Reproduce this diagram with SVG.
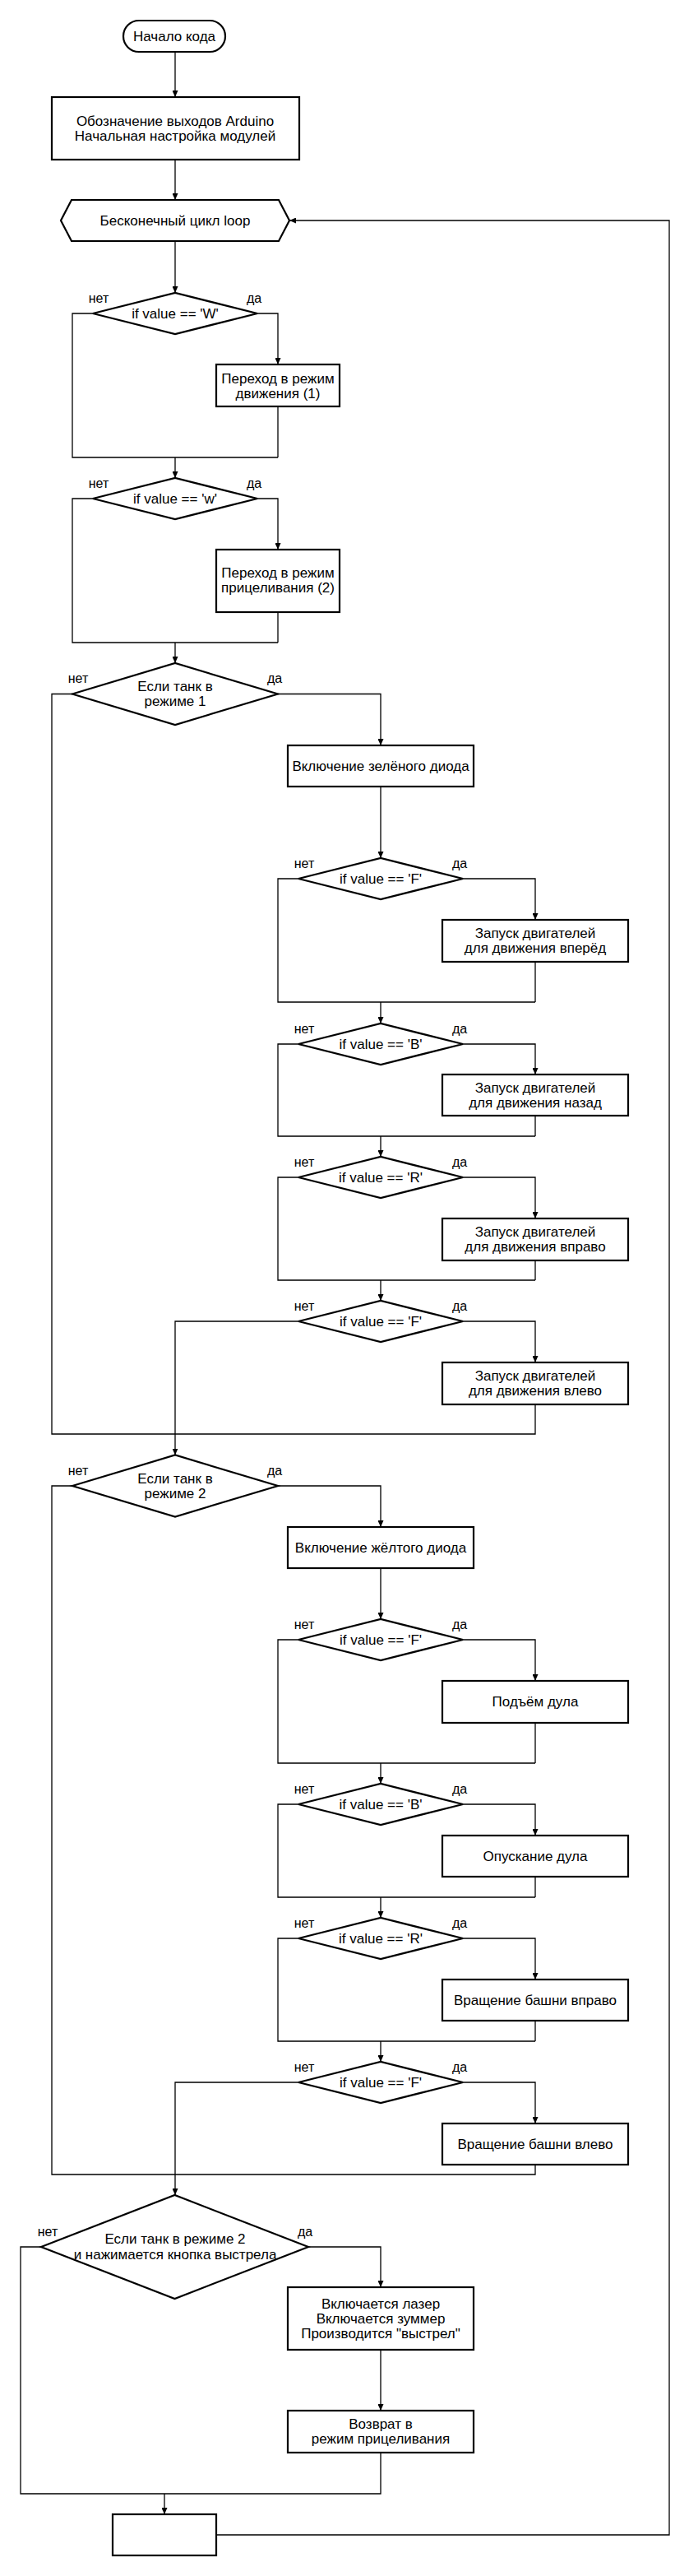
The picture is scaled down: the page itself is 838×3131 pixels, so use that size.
<svg xmlns="http://www.w3.org/2000/svg" width="838" height="3131" viewBox="0 0 838 3131">
<style>
.s{fill:#fff;stroke:#000;stroke-width:2.2}
.c{fill:none;stroke:#000;stroke-width:1.3}
.a{marker-end:url(#arr)}
text{font-family:"Liberation Sans",Arial,sans-serif;font-size:17px;fill:#000;text-anchor:middle}
.l{font-size:16px}
</style>
<defs>
<marker id="arr" markerUnits="userSpaceOnUse" markerWidth="8" markerHeight="7" refX="8" refY="3.5" orient="auto">
<path d="M0,0 L8,3.5 L0,7 z" fill="#000"/>
</marker>
</defs>
<rect width="838" height="3131" fill="#fff"/>
<g id="connectors">
<path class="c a" d="M213,63 V118"/>
<path class="c a" d="M213,194 V243"/>
<path class="c a" d="M213,293 V356"/>
<path class="c a" d="M313,381 H338 V443"/>
<path class="c" d="M338,494 V556"/>
<path class="c" d="M113,381 H88 V556 H338"/>
<path class="c a" d="M213,556 V581"/>
<path class="c a" d="M313,606 H338 V668"/>
<path class="c" d="M338,744 V781"/>
<path class="c" d="M113,606 H88 V781 H338"/>
<path class="c a" d="M213,781 V806"/>
<path class="c a" d="M338,843.5 H463 V906"/>
<path class="c a" d="M463,956 V1043"/>
<path class="c a" d="M563,1068 H651 V1118"/>
<path class="c" d="M651,1169 V1218"/>
<path class="c" d="M363,1068 H338 V1218 H651"/>
<path class="c a" d="M463,1218 V1244"/>
<path class="c a" d="M563,1269 H651 V1306"/>
<path class="c" d="M651,1356 V1381"/>
<path class="c" d="M363,1269 H338 V1381 H651"/>
<path class="c a" d="M463,1381 V1406"/>
<path class="c a" d="M563,1431 H651 V1481"/>
<path class="c" d="M651,1532 V1556"/>
<path class="c" d="M363,1431 H338 V1556 H651"/>
<path class="c a" d="M463,1556 V1581"/>
<path class="c a" d="M563,1606 H651 V1656"/>
<path class="c" d="M88,843.5 H63 V1743 H651 V1707"/>
<path class="c a" d="M363,1606 H213 V1768.5"/>
<path class="c a" d="M338,1806 H463 V1856"/>
<path class="c a" d="M463,1906 V1968"/>
<path class="c a" d="M563,1993 H651 V2043"/>
<path class="c" d="M651,2094 V2143"/>
<path class="c" d="M363,1993 H338 V2143 H651"/>
<path class="c a" d="M463,2143 V2168"/>
<path class="c a" d="M563,2193 H651 V2231"/>
<path class="c" d="M651,2281 V2306"/>
<path class="c" d="M363,2193 H338 V2306 H651"/>
<path class="c a" d="M463,2306 V2331"/>
<path class="c a" d="M563,2356 H651 V2406"/>
<path class="c" d="M651,2456 V2481"/>
<path class="c" d="M363,2356 H338 V2481 H651"/>
<path class="c a" d="M463,2481 V2506"/>
<path class="c a" d="M563,2531 H651 V2581"/>
<path class="c" d="M88,1806 H63 V2643 H651 V2631"/>
<path class="c a" d="M363,2531 H213 V2668"/>
<path class="c a" d="M375,2731 H463 V2780"/>
<path class="c a" d="M463,2856 V2930"/>
<path class="c" d="M50,2731 H25 V3031 H463 V2981"/>
<path class="c a" d="M200,3031 V3056"/>
<path class="c a" d="M263,3081 H814 V268 H352"/>
</g>
<g id="start"><rect class="s" x="150" y="25" width="124" height="38" rx="19"/><text x="212" y="50">Начало кода</text></g>
<g id="setup"><rect class="s" x="63" y="118" width="301" height="76"/><text x="213" y="153">Обозначение выходов Arduino</text><text x="213" y="171">Начальная настройка модулей</text></g>
<g id="loop"><polygon class="s" points="74,268 87,243 339,243 352,268 339,293 87,293"/><text x="213" y="274">Бесконечный цикл loop</text></g>
<g id="dW"><polygon class="s" points="113,381 213,356 313,381 213,406"/><text x="213" y="387">if value == 'W'</text><text class="l" x="120" y="368">нет</text><text class="l" x="309" y="368">да</text></g>
<g id="mode1set"><rect class="s" x="263" y="443" width="150" height="51"/><text x="338" y="466">Переход в режим</text><text x="338" y="484">движения (1)</text></g>
<g id="dw"><polygon class="s" points="113,606 213,581 313,606 213,631"/><text x="213" y="612">if value == 'w'</text><text class="l" x="120" y="593">нет</text><text class="l" x="309" y="593">да</text></g>
<g id="mode2set"><rect class="s" x="263" y="668" width="150" height="76"/><text x="338" y="702">Переход в режим</text><text x="338" y="720">прицеливания (2)</text></g>
<g id="dMode1"><polygon class="s" points="88,843.5 213,806 338,843.5 213,881"/><text x="213" y="840">Если танк в</text><text x="213" y="858">режиме 1</text><text class="l" x="95" y="830">нет</text><text class="l" x="334" y="830">да</text></g>
<g id="green"><rect class="s" x="350" y="906" width="226" height="50"/><text x="463" y="937">Включение зелёного диода</text></g>
<g id="dF1"><polygon class="s" points="363,1068 463,1043 563,1068 463,1093"/><text x="463" y="1074">if value == 'F'</text><text class="l" x="370" y="1055">нет</text><text class="l" x="559" y="1055">да</text></g>
<g id="fwd"><rect class="s" x="538" y="1118" width="226" height="51"/><text x="651" y="1140">Запуск двигателей</text><text x="651" y="1158">для движения вперёд</text></g>
<g id="dB1"><polygon class="s" points="363,1269 463,1244 563,1269 463,1294"/><text x="463" y="1275">if value == 'B'</text><text class="l" x="370" y="1256">нет</text><text class="l" x="559" y="1256">да</text></g>
<g id="back"><rect class="s" x="538" y="1306" width="226" height="50"/><text x="651" y="1328">Запуск двигателей</text><text x="651" y="1346">для движения назад</text></g>
<g id="dR1"><polygon class="s" points="363,1431 463,1406 563,1431 463,1456"/><text x="463" y="1437">if value == 'R'</text><text class="l" x="370" y="1418">нет</text><text class="l" x="559" y="1418">да</text></g>
<g id="right"><rect class="s" x="538" y="1481" width="226" height="51"/><text x="651" y="1503">Запуск двигателей</text><text x="651" y="1521">для движения вправо</text></g>
<g id="dF2"><polygon class="s" points="363,1606 463,1581 563,1606 463,1631"/><text x="463" y="1612">if value == 'F'</text><text class="l" x="370" y="1593">нет</text><text class="l" x="559" y="1593">да</text></g>
<g id="left"><rect class="s" x="538" y="1656" width="226" height="51"/><text x="651" y="1678">Запуск двигателей</text><text x="651" y="1696">для движения влево</text></g>
<g id="dMode2"><polygon class="s" points="88,1806 213,1768.5 338,1806 213,1843.5"/><text x="213" y="1803">Если танк в</text><text x="213" y="1821">режиме 2</text><text class="l" x="95" y="1793">нет</text><text class="l" x="334" y="1793">да</text></g>
<g id="yellow"><rect class="s" x="350" y="1856" width="226" height="50"/><text x="463" y="1887">Включение жёлтого диода</text></g>
<g id="dF3"><polygon class="s" points="363,1993 463,1968 563,1993 463,2018"/><text x="463" y="1999">if value == 'F'</text><text class="l" x="370" y="1980">нет</text><text class="l" x="559" y="1980">да</text></g>
<g id="up"><rect class="s" x="538" y="2043" width="226" height="51"/><text x="651" y="2074">Подъём дула</text></g>
<g id="dB2"><polygon class="s" points="363,2193 463,2168 563,2193 463,2218"/><text x="463" y="2199">if value == 'B'</text><text class="l" x="370" y="2180">нет</text><text class="l" x="559" y="2180">да</text></g>
<g id="down"><rect class="s" x="538" y="2231" width="226" height="50"/><text x="651" y="2262">Опускание дула</text></g>
<g id="dR2"><polygon class="s" points="363,2356 463,2331 563,2356 463,2381"/><text x="463" y="2362">if value == 'R'</text><text class="l" x="370" y="2343">нет</text><text class="l" x="559" y="2343">да</text></g>
<g id="turnR"><rect class="s" x="538" y="2406" width="226" height="50"/><text x="651" y="2437">Вращение башни вправо</text></g>
<g id="dF4"><polygon class="s" points="363,2531 463,2506 563,2531 463,2556"/><text x="463" y="2537">if value == 'F'</text><text class="l" x="370" y="2518">нет</text><text class="l" x="559" y="2518">да</text></g>
<g id="turnL"><rect class="s" x="538" y="2581" width="226" height="50"/><text x="651" y="2612">Вращение башни влево</text></g>
<g id="dFire"><polygon class="s" points="50,2731 212.5,2668 375,2731 212.5,2794"/><text x="213" y="2727">Если танк в режиме 2</text><text x="213" y="2746">и нажимается кнопка выстрела</text><text class="l" x="58" y="2718">нет</text><text class="l" x="371" y="2718">да</text></g>
<g id="fire"><rect class="s" x="350" y="2780" width="226" height="76"/><text x="463" y="2806">Включается лазер</text><text x="463" y="2824">Включается зуммер</text><text x="463" y="2842">Производится "выстрел"</text></g>
<g id="ret"><rect class="s" x="350" y="2930" width="226" height="51"/><text x="463" y="2952">Возврат в</text><text x="463" y="2970">режим прицеливания</text></g>
<g id="end"><rect class="s" x="137" y="3056" width="126" height="50"/></g>
</svg>
